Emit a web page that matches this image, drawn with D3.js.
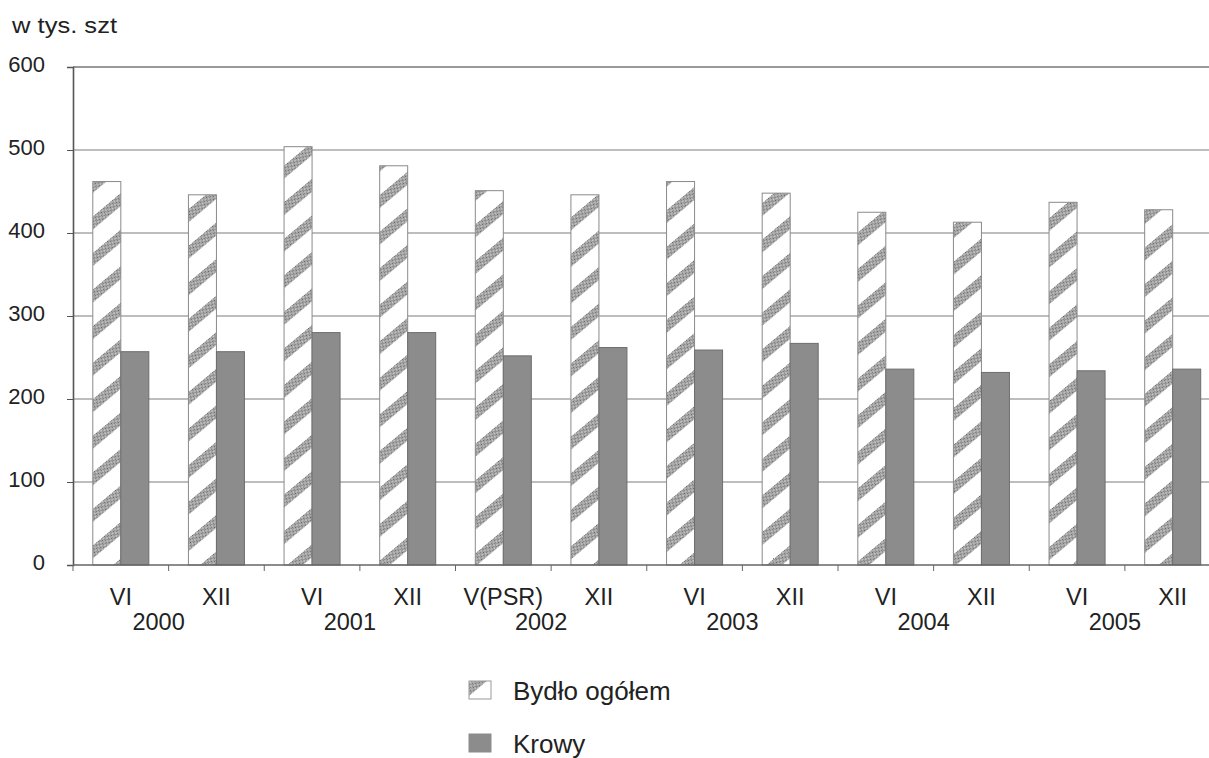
<!DOCTYPE html>
<html><head><meta charset="utf-8">
<script src="https://cdn.jsdelivr.net/npm/d3@7"></script>
<style>
html,body{margin:0;padding:0;background:#fff;}
svg{display:block;font-family:"Liberation Sans",Arial,sans-serif;}
</style></head>
<body>
<svg id="chart" width="1209" height="758"></svg>
<script>
const categories = ["VI","XII","VI","XII","V(PSR)","XII","VI","XII","VI","XII","VI","XII"];
const years = ["2000","2001","2002","2003","2004","2005"];
const bydlo = [462,446,504,481,451,446,462,448,425,413,437,428];
const krowy = [257,257,280,280,252,262,259,267,236,232,234,236];
const yTicks = [0,100,200,300,400,500,600];
const seriesNames = ["Bydło ogółem","Krowy"];

(function(){
const svg = d3.select("#chart");
const pl = 73, pr = 1220.5, pt = 67, pb = 565;

const x = d3.scaleBand().domain(d3.range(categories.length)).range([pl, pr]);
const xs = d3.scaleBand().domain([0,1]).range([0, x.bandwidth()]).paddingInner(0).paddingOuter(0.707);
const y = d3.scaleLinear().domain([0,600]).range([pb, pt]);

const defs = svg.append("defs");
const dots = defs.append("pattern").attr("id","dots").attr("patternUnits","userSpaceOnUse")
  .attr("width",2).attr("height",2);
dots.append("rect").attr("width",2).attr("height",2).attr("fill","#cfcfcf");
dots.append("rect").attr("width",1).attr("height",1).attr("fill","#5e5e5e");
dots.append("rect").attr("x",1).attr("y",1).attr("width",1).attr("height",1).attr("fill","#8e8e8e");

const hatch = defs.append("pattern").attr("id","hatch").attr("patternUnits","userSpaceOnUse")
  .attr("width",40).attr("height",28).attr("patternTransform","translate(0,2) rotate(-40)");
hatch.append("rect").attr("width",40).attr("height",28).attr("fill","#fff");
hatch.append("rect").attr("y",0).attr("width",40).attr("height",10).attr("fill","url(#dots)");

// gridlines
svg.append("g").selectAll("line").data(yTicks.filter(t=>t>0)).join("line")
  .attr("x1",pl).attr("x2",pr).attr("y1",d=>y(d)).attr("y2",d=>y(d))
  .attr("stroke",d=>d===600?"#999":"#bdbdbd").attr("stroke-width",d=>d===600?2:1.8);

// bars
const g = svg.append("g");
g.selectAll("rect.b").data(bydlo).join("rect").attr("class","b")
  .attr("x",(d,i)=>x(i)+xs(0)).attr("width",xs.bandwidth())
  .attr("y",d=>y(d)).attr("height",d=>y(0)-y(d))
  .attr("fill","url(#hatch)").attr("stroke","#8a8a8a").attr("stroke-width",1);
g.selectAll("rect.k").data(krowy).join("rect").attr("class","k")
  .attr("x",(d,i)=>x(i)+xs(1)).attr("width",xs.bandwidth())
  .attr("y",d=>y(d)).attr("height",d=>y(0)-y(d))
  .attr("fill","#8c8c8c").attr("stroke","#6e6e6e").attr("stroke-width",1);

// y axis
const yAxis = d3.axisLeft(y).tickValues(yTicks).tickSize(6).tickPadding(22);
const ya = svg.append("g").attr("transform",`translate(${pl},0)`).call(yAxis);
ya.select(".domain").attr("stroke","#555").attr("stroke-width",1.6);
ya.selectAll(".tick line").attr("stroke","#555");
ya.selectAll(".tick text").attr("font-size",22).attr("fill","#222")
  .attr("font-family","Liberation Sans, Arial, sans-serif").attr("dy","0.22em");

// x axis
const bounds = d3.range(categories.length+1).map(i=>pl + i*x.step());
svg.append("line").attr("x1",pl).attr("x2",pr).attr("y1",pb).attr("y2",pb)
  .attr("stroke","#666").attr("stroke-width",1.6);
svg.append("g").selectAll("line").data(bounds).join("line")
  .attr("x1",d=>d).attr("x2",d=>d).attr("y1",pb).attr("y2",pb+6)
  .attr("stroke","#666").attr("stroke-width",1);

svg.append("g").selectAll("text").data(categories).join("text")
  .attr("x",(d,i)=>x(i)+x.bandwidth()/2).attr("y",605)
  .attr("text-anchor","middle").attr("font-size",23.5).attr("fill","#222").text(d=>d);
svg.append("g").selectAll("text").data(years).join("text")
  .attr("x",(d,i)=>x(2*i+1)-10).attr("y",630)
  .attr("text-anchor","middle").attr("font-size",23.5).attr("fill","#222").text(d=>d);

// title
svg.append("text").attr("x",12).attr("y",33).attr("font-size",22).attr("fill","#222")
  .attr("textLength",105).attr("lengthAdjust","spacingAndGlyphs").text("w tys. szt");

// legend
const lg = svg.append("g");
const ly = [681, 734];
const sw = lg.selectAll("g").data(seriesNames).join("g").attr("transform",(d,i)=>`translate(469,${ly[i]})`);
sw.append("rect").attr("width",22).attr("height",18)
  .attr("fill",(d,i)=>i===0?"url(#hatch)":"#8c8c8c").attr("stroke",(d,i)=>i===0?"#999":"#8c8c8c");
sw.append("text").attr("x",44).attr("y",19).attr("font-size",26).attr("fill","#222").text(d=>d);
})();
</script>
</body></html>
